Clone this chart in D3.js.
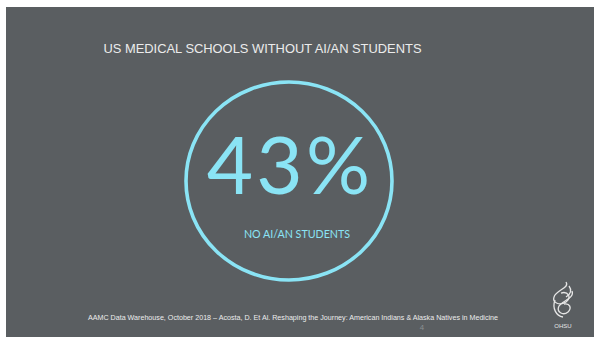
<!DOCTYPE html>
<html><head><meta charset="utf-8">
<script src="https://cdn.jsdelivr.net/npm/d3@7"></script>
<style>html,body{margin:0;padding:0;background:#fff;overflow:hidden}</style>
</head><body>
<svg id="c" width="594" height="337"></svg>
<script>
const titleText = ["US MEDICAL SCHOOLS WITHOUT AI/AN STUDENTS"];
const statValues = [43];
const statLabels = ["NO AI/AN STUDENTS"];
const sourceText = ["AAMC Data Warehouse, October 2018 \u2013 Acosta, D. Et Al. Reshaping the Journey: American Indians & Alaska Natives in Medicine"];
const pageNumber = ["4"];

const svg = d3.select("#c");
const W = 594, H = 337;
const bg = "#5a5e61", accent = "#8ae4f5", txt = "#ececec";

svg.append("rect").attr("x", 6).attr("y", 7).attr("width", W - 6).attr("height", H - 7).attr("fill", bg);

svg.append("text").attr("x", 262.5).attr("y", 53).attr("text-anchor", "middle")
  .attr("font-family", "Liberation Sans, Arial, sans-serif").attr("font-size", 12.9)
  .attr("fill", txt).text(titleText[0]);

const cx = 289, cy = 181;
svg.selectAll("ellipse.ring").data(statValues).join("ellipse").attr("class", "ring")
  .attr("cx", cx).attr("cy", cy).attr("rx", 103).attr("ry", 99)
  .attr("fill", "none").attr("stroke", accent).attr("stroke-width", 3.6);

const fmt = d3.format("d");
svg.selectAll("text.big").data(statValues).join("text").attr("class", "big")
  .attr("x", cx + 1).attr("y", 194).attr("text-anchor", "middle")
  .attr("font-family", "Lato, sans-serif").attr("font-weight", 400).attr("font-size", 80)
  .attr("letter-spacing", 3.2)
  .attr("fill", accent).text(d => fmt(d) + "%");

svg.selectAll("text.lbl").data(statLabels).join("text").attr("class", "lbl")
  .attr("x", 297).attr("y", 237.5).attr("text-anchor", "middle")
  .attr("font-family", "Lato, sans-serif").attr("font-size", 10.7)
  .attr("fill", accent).text(d => d);

svg.append("text").attr("x", 293).attr("y", 319.5).attr("text-anchor", "middle")
  .attr("font-family", "Liberation Sans, Arial, sans-serif").attr("font-size", 7.15)
  .attr("fill", txt).text(sourceText[0]);

svg.append("text").attr("x", 422).attr("y", 329.5).attr("text-anchor", "middle")
  .attr("font-family", "Liberation Sans, Arial, sans-serif").attr("font-size", 7.8)
  .attr("fill", "#8a8e91").text(pageNumber[0]);

// OHSU logo (simplified)
const g = svg.append("g").attr("fill", "none").attr("stroke", "#e6e6e6").attr("stroke-width", 1.3);
g.append("path").attr("d", "M566,282 C570,288 556,290 554,297 C552,303 560,306 566,302 C572,297 568,291 561,293");
g.append("path").attr("d", "M572,291 C575,298 562,301 559,306 C556,312 563,316 568,312 C572,308 570,303 564,304");
g.append("path").attr("d", "M555,300 C552,308 556,316 563,317");
g.append("path").attr("d", "M569,286 C572,290 571,294 566,297");
svg.append("text").attr("x", 563).attr("y", 328).attr("text-anchor", "middle")
  .attr("font-family", "Liberation Sans, Arial, sans-serif").attr("font-size", 6)
  .attr("fill", "#e6e6e6").text("OHSU");
</script>
</body></html>
